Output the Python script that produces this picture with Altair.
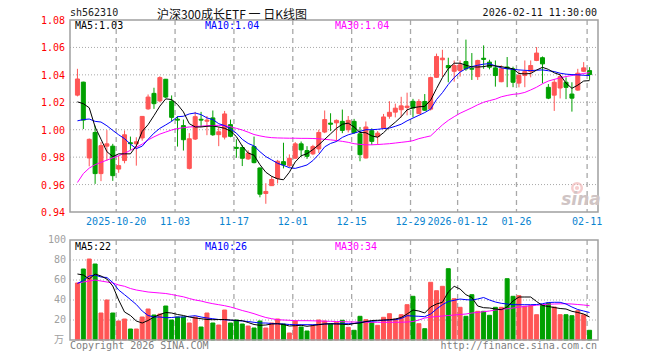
import altair as alt
import pandas as pd

# ---------------- data ----------------
OPEN = [1.0252, 1.0347, 0.9794, 0.9980, 0.9680, 0.9880, 0.9880, 0.9713, 0.9775, 0.9905,
        0.9897, 0.9940, 1.0152, 1.0265, 1.0210, 1.0368, 1.0208, 1.0077, 1.0030, 0.9718,
        0.9932, 1.0076, 1.0062, 1.0086, 0.9964, 0.9946, 1.0037, 0.9871, 0.9870, 0.9787,
        0.9877, 0.9721, 0.9535, 0.9592, 0.9645, 0.9767, 0.9737, 0.9792, 0.9897, 0.9848,
        0.9824, 0.9860, 0.9983, 1.0048, 1.0050, 1.0061, 1.0000, 1.0061, 0.9970, 0.9794,
        0.9993, 0.9950, 1.0012, 1.0098, 1.0128, 1.0146, 1.0162, 1.0207, 1.0118, 1.0206,
        1.0150, 1.0382, 1.0510, 1.0468, 1.0426, 1.0431, 1.0497, 1.0447, 1.0387, 1.0521,
        1.0493, 1.0451, 1.0350, 1.0457, 1.0444, 1.0340, 1.0395, 1.0424, 1.0505, 1.0525,
        1.0309, 1.0252, 1.0304, 1.0346, 1.0260, 1.0289, 1.0426, 1.0431]
HIGH = [1.0444, 1.0350, 0.9936, 1.0030, 0.9910, 0.9997, 0.9897, 0.9810, 0.9995, 0.9950,
        0.9945, 1.0100, 1.0257, 1.0306, 1.0390, 1.0370, 1.0250, 1.0098, 1.0074, 0.9975,
        1.0130, 1.0130, 1.0100, 1.0140, 1.0020, 1.0137, 1.0074, 0.9930, 0.9887, 0.9850,
        0.9950, 0.9725, 0.9610, 0.9660, 0.9780, 0.9905, 0.9820, 0.9910, 0.9914, 0.9880,
        0.9890, 1.0000, 1.0140, 1.0120, 1.0075, 1.0147, 1.0100, 1.0079, 1.0020, 1.0060,
        1.0010, 0.9990, 1.0115, 1.0208, 1.0190, 1.0240, 1.0270, 1.0225, 1.0223, 1.0260,
        1.0387, 1.0555, 1.0583, 1.0525, 1.0505, 1.0505, 1.0657, 1.0559, 1.0510, 1.0615,
        1.0510, 1.0505, 1.0470, 1.0530, 1.0460, 1.0431, 1.0505, 1.0505, 1.0603, 1.0534,
        1.0333, 1.0370, 1.0407, 1.0382, 1.0346, 1.0444, 1.0493, 1.0456]
LOW = [1.0243, 1.0005, 0.9733, 0.9605, 0.9625, 0.9775, 0.9627, 0.9686, 0.9755, 0.9853,
       0.9738, 0.9920, 1.0145, 1.0152, 1.0200, 1.0230, 1.0061, 0.9877, 0.9848, 0.9710,
       0.9925, 1.0020, 0.9960, 0.9955, 0.9880, 0.9929, 0.9945, 0.9795, 0.9735, 0.9780,
       0.9755, 0.9507, 0.9460, 0.9590, 0.9608, 0.9718, 0.9728, 0.9790, 0.9804, 0.9787,
       0.9815, 0.9830, 0.9975, 0.9990, 0.9914, 0.9975, 0.9980, 0.9970, 0.9770, 0.9790,
       0.9890, 0.9890, 1.0005, 1.0080, 1.0090, 1.0090, 1.0105, 1.0090, 1.0113, 1.0137,
       1.0140, 1.0377, 1.0385, 1.0346, 1.0350, 1.0387, 1.0430, 1.0363, 1.0363, 1.0444,
       1.0440, 1.0314, 1.0346, 1.0310, 1.0310, 1.0309, 1.0310, 1.0382, 1.0500, 1.0338,
       1.0223, 1.0137, 1.0228, 1.0223, 1.0132, 1.0284, 1.0420, 1.0363]
CLOSE = [1.0370, 1.0070, 0.9930, 0.9680, 0.9884, 0.9897, 0.9665, 0.9738, 0.9963, 0.9898,
         0.9912, 1.0097, 1.0238, 1.0190, 1.0380, 1.0238, 1.0090, 1.0070, 0.9927, 0.9934,
         1.0095, 1.0070, 1.0070, 0.9963, 0.9985, 1.0115, 0.9952, 0.9864, 0.9792, 0.9829,
         0.9760, 0.9530, 0.9550, 0.9637, 0.9770, 0.9743, 0.9792, 0.9897, 0.9853, 0.9806,
         0.9877, 0.9980, 1.0074, 1.0040, 1.0068, 0.9995, 1.0068, 0.9980, 0.9818, 1.0020,
         0.9915, 0.9975, 1.0093, 1.0127, 1.0157, 1.0174, 1.0172, 1.0158, 1.0206, 1.0142,
         1.0380, 1.0534, 1.0522, 1.0451, 1.0468, 1.0473, 1.0444, 1.0441, 1.0505, 1.0513,
         1.0456, 1.0395, 1.0444, 1.0446, 1.0346, 1.0395, 1.0424, 1.0468, 1.0559, 1.0480,
         1.0230, 1.0346, 1.0387, 1.0309, 1.0230, 1.0412, 1.0451, 1.0402]
VOLUME = [57, 71, 81, 76, 27, 40, 27, 19, 21, 11,
          11, 23, 31, 25, 26, 34, 20, 23, 23, 17,
          23, 13, 27, 17, 15, 30, 17, 20, 16, 14,
          12, 19, 12, 17, 21, 16, 7, 19, 13, 9,
          14, 20, 19, 16, 17.7, 19.7, 12.7, 9.7, 23.7, 20.3,
          17.7, 14.7, 22.7, 26.3, 21, 25.3, 35.3, 43.7, 16.3, 11.3,
          57.7, 49.3, 53.7, 71.3, 41.3, 32.7, 23.7, 45.3, 28.7, 28.7,
          24.7, 32.7, 32.7, 61.3, 43.7, 44.3, 33.7, 34.3, 25.3, 35.3,
          37, 33, 25.3, 25.3, 24.3, 29.3, 25.3, 9.7]
MA5 = [1.0203, 1.0190, 1.0160, 1.0020, 0.9931, 0.9840, 0.9804, 0.9824, 0.9824, 0.9824,
       0.9882, 0.9988, 1.0037, 1.0103, 1.0172, 1.0225, 1.0220, 1.0184, 1.0130, 1.0044,
       1.0020, 1.0020, 1.0025, 1.0027, 1.0020, 1.0010, 0.9990, 0.9950, 0.9880, 0.9830,
       0.9814, 0.9745, 0.9690, 0.9660, 0.9642, 0.9635, 0.9690, 0.9765, 0.9810, 0.9825,
       0.9855, 0.9890, 0.9930, 0.9970, 1.0010, 1.0040, 1.0048, 1.0020, 0.9980, 0.9978,
       0.9955, 0.9945, 0.9978, 1.0020, 1.0055, 1.0095, 1.0145, 1.0160, 1.0167, 1.0170,
       1.0215, 1.0300, 1.0380, 1.0445, 1.0485, 1.0485, 1.0470, 1.0458, 1.0457, 1.0460,
       1.0468, 1.0465, 1.0460, 1.0452, 1.0444, 1.0410, 1.0407, 1.0410, 1.0435, 1.0455,
       1.0440, 1.0415, 1.0400, 1.0340, 1.0302, 1.0325, 1.0355, 1.0358]
MA10 = [1.0065, 1.0074, 1.0078, 1.0061, 1.0056, 1.0029, 0.9995, 0.9963, 0.9935, 0.9895,
        0.9862, 0.9880, 0.9930, 0.9975, 1.0010, 1.0035, 1.0061, 1.0095, 1.0098, 1.0115,
        1.0122, 1.0110, 1.0086, 1.0074, 1.0044, 1.0030, 1.0005, 0.9975, 0.9930, 0.9900,
        0.9882, 0.9840, 0.9804, 0.9780, 0.9755, 0.9740, 0.9723, 0.9718, 0.9730, 0.9743,
        0.9775, 0.9820, 0.9875, 0.9900, 0.9914, 0.9944, 0.9963, 0.9975, 0.9988, 1.0000,
        1.0000, 1.0003, 1.0008, 1.0012, 1.0025, 1.0040, 1.0065, 1.0085, 1.0105, 1.0125,
        1.0150, 1.0220, 1.0270, 1.0330, 1.0380, 1.0420, 1.0445, 1.0460, 1.0470, 1.0478,
        1.0482, 1.0465, 1.0451, 1.0444, 1.0440, 1.0436, 1.0433, 1.0431, 1.0434, 1.0436,
        1.0430, 1.0424, 1.0412, 1.0405, 1.0402, 1.0400, 1.0397, 1.0395]
MA30 = [0.9615, 0.9680, 0.9720, 0.9745, 0.9762, 0.9778, 0.9795, 0.9810, 0.9828, 0.9850,
        0.9872, 0.9895, 0.9925, 0.9948, 0.9968, 0.9983, 0.9998, 1.0008, 1.0015, 1.0020,
        1.0023, 1.0026, 1.0029, 1.0031, 1.0032, 1.0030, 1.0022, 1.0010, 0.9998, 0.9982,
        0.9965, 0.9955, 0.9947, 0.9942, 0.9940, 0.9939, 0.9938, 0.9938, 0.9937, 0.9937,
        0.9936, 0.9934, 0.9930, 0.9926, 0.9921, 0.9915, 0.9908, 0.9898, 0.9893, 0.9890,
        0.9890, 0.9892, 0.9895, 0.9898, 0.9903, 0.9908, 0.9913, 0.9920, 0.9935, 0.9945,
        0.9955, 0.9995, 1.0035, 1.0068, 1.0095, 1.0120, 1.0140, 1.0160, 1.0182, 1.0200,
        1.0212, 1.0223, 1.0240, 1.0250, 1.0258, 1.0262, 1.0272, 1.0290, 1.0310, 1.0335,
        1.0355, 1.0367, 1.0378, 1.0388, 1.0395, 1.0403, 1.0410, 1.0416]
VMA5 = [66, 65, 61, 66, 64, 61, 54, 40, 28, 24.5,
        19, 17, 19.5, 23, 25.5, 27.5, 27, 25.5, 24.5, 23,
        22, 21.3, 20.5, 20.3, 20.5, 20.5, 20, 19.7, 19.3, 17.5,
        15.5, 14.7, 15, 16, 16.3, 15.5, 14, 14.3, 14.7, 13.7,
        14.5, 15.3, 16, 16.2, 16, 15.8, 15.3, 16.5, 17, 18.5,
        19.5, 19.7, 20, 20.3, 21, 22.5, 26, 30, 29, 27,
        33, 36, 37.7, 48, 53.7, 51, 45.3, 42.5, 34, 32.3,
        32, 31, 30.3, 33, 39, 43, 43, 43, 38.5, 34.5,
        33.5, 32.5, 31.5, 31, 28.7, 27.5, 26, 23]
VMA10 = [56.5, 59.5, 64, 65, 63, 62.5, 57.5, 50, 45.3, 40.5,
         35.5, 29, 24.5, 23, 23, 22.3, 22.5, 23, 23, 23.7,
         24.3, 23, 22, 21.3, 20.5, 20.2, 19.8, 19.4, 19, 18.5,
         17.7, 17, 17, 16.5, 16.2, 16, 15.5, 15.3, 15.3, 15.3,
         15.3, 15.5, 16, 16.3, 16.3, 16.3, 16.3, 16.5, 17.5, 18.3,
         18.7, 19.2, 19.7, 20, 20.3, 21.5, 24.3, 24, 23.7, 23.3,
         26, 31, 35.3, 38.5, 39.7, 41, 40.3, 40, 41, 42.5,
         40, 38, 36.7, 36, 35.3, 35.3, 35.3, 35.3, 35.5, 36.3,
         37.5, 37.7, 37.7, 36, 33, 30.5, 29, 27.5]
VMA30 = [57, 58, 59, 60, 59, 58, 57, 55, 53.7, 51.5,
         50, 49, 48, 47.5, 47, 46.5, 45.5, 44.3, 43.2, 41.5,
         40, 39, 37.5, 36.3, 35.3, 34.3, 33, 31.3, 29.5, 28,
         26.3, 24.3, 22.5, 21.3, 20.3, 20, 19.7, 19.3, 19.3, 19.3,
         19.2, 19, 18.8, 18.7, 18.5, 18.3, 18.1, 18, 17.9, 17.8,
         17.7, 17.7, 17.7, 17.7, 17.7, 17.8, 18, 18.5, 20, 22,
         22.8, 23.5, 24, 24.5, 25, 25.5, 26, 27, 27.6, 28.3,
         29, 30, 30.7, 31.2, 32, 32.8, 33.6, 34.2, 34.8, 35.3,
         35.8, 36, 36.2, 36.3, 36, 35.5, 35, 34.3]
DATE_SLOTS = [7, 17, 27, 37, 47, 57, 65, 75, 87]
DATE_LABELS = ["2025-10-20", "11-03", "11-17", "12-01", "12-15", "12-29",
               "2026-01-12", "01-26", "02-11"]
PRICE_TICKS = [0.94, 0.96, 0.98, 1.00, 1.02, 1.04, 1.06, 1.08]
PRICE_GRID = [0.96, 0.98, 1.00, 1.02, 1.04, 1.06]
VOL_TICKS = [20, 40, 60, 80, 100]
VOL_GRID = [20, 40, 60, 80]

# ---------------- layout / style ----------------
N = len(CLOSE)
W = 6 * N            # plot width (6 px per trading day)
PH = 192             # price panel height
VT, VB = 220, 320    # volume panel top / bottom inside plot area
RED = "#FF5555"
GREEN = "#00A000"
MONO = "DejaVu Sans Mono"
CJK = "Noto Sans CJK SC"
GRID = "#A8A8A8"
BORDER = "#A0A0A0"

df = pd.DataFrame({"i": list(range(N)), "o": OPEN, "h": HIGH, "l": LOW, "c": CLOSE,
                   "v": VOLUME, "ma5": MA5, "ma10": MA10, "ma30": MA30,
                   "vma5": VMA5, "vma10": VMA10, "vma30": VMA30})
df["xc"] = df["i"] + 5.0 / 12.0
df["dir"] = ["up" if c >= o else "down" for o, c in zip(OPEN, CLOSE)]

xscale = alt.Scale(domain=[0, N], nice=False, zero=False)
X = alt.X("xc:Q", scale=xscale, axis=None)
pscale = alt.Scale(domain=[0.94, 1.08], range=[PH, 0], nice=False, zero=False)
vscale = alt.Scale(domain=[0, 100], range=[VB, VT], nice=False, zero=False)
cscale = alt.Scale(domain=["up", "down"], range=[RED, GREEN])


def PY(f):
    return alt.Y(f"{f}:Q", scale=pscale, axis=None)


def VY(f):
    return alt.Y(f"{f}:Q", scale=vscale, axis=None)


COLOR = alt.Color("dir:N", scale=cscale, legend=None)
STROKE = alt.Stroke("dir:N", scale=cscale, legend=None)
one = pd.DataFrame({"k": [0]})


def label(text, x, y, color, size=10, align="left", font=MONO, baseline="middle", **kw):
    return alt.Chart(pd.DataFrame({"t": [text]})).mark_text(
        align=align, baseline=baseline, font=font, fontSize=size, color=color, **kw
    ).encode(x=alt.value(x), y=alt.value(y), text="t:N")


dates = pd.DataFrame({"s": DATE_SLOTS, "t": DATE_LABELS})

# ---------------- price panel ----------------
p_hgrid = alt.Chart(pd.DataFrame({"p": PRICE_GRID})).mark_rule(
    color=GRID, strokeDash=[1, 2], strokeWidth=1).encode(
    y=PY("p"), x=alt.value(0), x2=alt.value(W))
p_vgrid = alt.Chart(dates).mark_rule(color=GRID, strokeDash=[5, 4], strokeWidth=1.3).encode(
    x=alt.X("s:Q", scale=xscale, axis=None), y=alt.value(0), y2=alt.value(PH))
wicks = alt.Chart(df).mark_rule(strokeWidth=1).encode(x=X, y=PY("l"), y2="h:Q", color=COLOR)
bodies = alt.Chart(df).mark_bar(size=4, strokeWidth=1).encode(
    x=X, y=PY("o"), y2="c:Q", color=COLOR, stroke=STROKE)
ma5 = alt.Chart(df).mark_line(color="black", strokeWidth=1).encode(x=X, y=PY("ma5"))
ma10 = alt.Chart(df).mark_line(color="#0000FF", strokeWidth=1).encode(x=X, y=PY("ma10"))
ma30 = alt.Chart(df).mark_line(color="#FF00FF", strokeWidth=1).encode(x=X, y=PY("ma30"))
p_border = alt.Chart(one).mark_rect(fillOpacity=0, stroke=BORDER, strokeWidth=1.5).encode(
    x=alt.value(0), x2=alt.value(W), y=alt.value(0), y2=alt.value(PH))
p_labels = alt.Chart(pd.DataFrame({"p": PRICE_TICKS, "t": [f"{p:.2f}" for p in PRICE_TICKS]})).mark_text(
    align="right", baseline="middle", font=MONO, fontSize=10, color="#FF0000", dy=1).encode(
    y=PY("p"), x=alt.value(-5), text="t:N")
date_labels = alt.Chart(dates).mark_text(
    align="center", baseline="middle", font=MONO, fontSize=10, color="#0A84D0").encode(
    x=alt.X("s:Q", scale=xscale, axis=None), y=alt.value(202), text="t:N")

price = alt.layer(p_hgrid, p_vgrid, wicks, bodies, ma30, ma10, ma5, p_border, p_labels, date_labels)

# ---------------- volume panel ----------------
v_hgrid = alt.Chart(pd.DataFrame({"v": VOL_GRID})).mark_rule(
    color=GRID, strokeDash=[1, 2], strokeWidth=1).encode(
    y=VY("v"), x=alt.value(0), x2=alt.value(W))
v_vgrid = alt.Chart(dates).mark_rule(color=GRID, strokeDash=[5, 4], strokeWidth=1.3).encode(
    x=alt.X("s:Q", scale=xscale, axis=None), y=alt.value(VT), y2=alt.value(VB))
vbars = alt.Chart(df).mark_bar(size=4, strokeWidth=1).encode(
    x=X, y=VY("v"), y2=alt.datum(0), color=COLOR, stroke=STROKE)
vma5 = alt.Chart(df).mark_line(color="black", strokeWidth=1).encode(x=X, y=VY("vma5"))
vma10 = alt.Chart(df).mark_line(color="#0000FF", strokeWidth=1).encode(x=X, y=VY("vma10"))
vma30 = alt.Chart(df).mark_line(color="#FF00FF", strokeWidth=1).encode(x=X, y=VY("vma30"))
v_border = alt.Chart(one).mark_rect(fillOpacity=0, stroke=BORDER, strokeWidth=1.5).encode(
    x=alt.value(0), x2=alt.value(W), y=alt.value(VT), y2=alt.value(VB))
v_labels = alt.Chart(pd.DataFrame({"v": VOL_TICKS, "t": [str(v) for v in VOL_TICKS]})).mark_text(
    align="right", baseline="middle", font=MONO, fontSize=10, color="#A0A0A0").encode(
    y=VY("v"), x=alt.value(-4), text="t:N")

volume = alt.layer(v_hgrid, v_vgrid, vbars, vma30, vma10, vma5, v_border, v_labels)

# ---------------- sina watermark ----------------
logo_outer = alt.Chart(one).mark_point(shape="circle", size=90, filled=False,
                                       stroke="#F2B8B8", strokeWidth=2.5).encode(
    x=alt.value(507), y=alt.value(168))
logo_inner = alt.Chart(one).mark_point(shape="circle", size=18, filled=True,
                                       fill="#F2B8B8", strokeWidth=0).encode(
    x=alt.value(507), y=alt.value(168))

# ---------------- texts ----------------
texts = alt.layer(
    label("sh562310", 0, -7, "#222222"),
    label("沪深300成长ETF 一 日K线图", 162, -1, "#111111", size=12, align="center",
          font=CJK, baseline="alphabetic"),
    label("2026-02-11 11:30:00", W - 1, -7, "#111111", align="right"),
    label("MA5:1.03", 5, 6, "#000000"),
    label("MA10:1.04", 135, 6, "#0000FF"),
    label("MA30:1.04", 265, 6, "#FF00FF"),
    label("MA5:22", 5, 227, "#000000"),
    label("MA10:26", 135, 227, "#0000FF"),
    label("MA30:34", 265, 227, "#FF00FF"),
    label("万", -6, 320, "#A0A0A0", align="right", font=CJK),
    label("Copyright 2026 SINA.COM", 0, 326, "#808080"),
    label("http://finance.sina.com.cn", W - 1, 326, "#808080", align="right"),
    logo_outer, logo_inner,
    label("sina", 511, 180, "#CFC4C4", size=17, align="center", font="DejaVu Sans",
          fontStyle="italic", fontWeight="bold"),
)

chart = alt.layer(price, volume, texts).resolve_scale(y="independent").properties(
    width=W, height=VB,
    autosize=alt.AutoSizeParams(type="none"),
    padding={"left": 62, "top": 12, "right": 40, "bottom": 12},
    background="white",
).configure_view(strokeWidth=0)

chart.save("out.html", embed_options={"renderer": "svg", "actions": False})
